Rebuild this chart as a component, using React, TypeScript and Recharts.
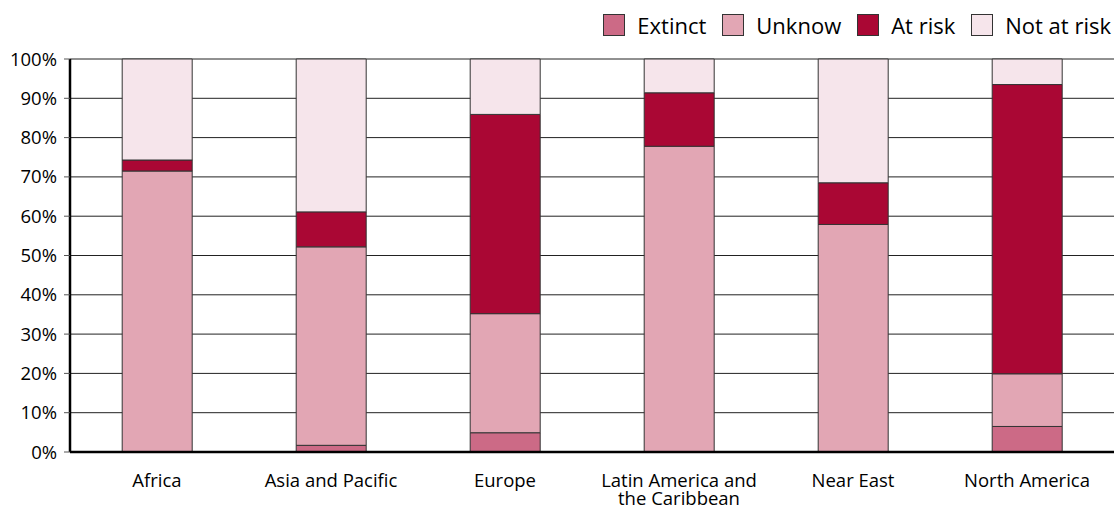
import React from "react";
import { BarChart, Bar, XAxis, YAxis, CartesianGrid, Legend } from "recharts";

const categories = [
  "Africa",
  "Asia and Pacific",
  "Europe",
  "Latin America and the Caribbean",
  "Near East",
  "North America",
];
const categoryLines = [
  ["Africa"],
  ["Asia and Pacific"],
  ["Europe"],
  ["Latin America and", "the Caribbean"],
  ["Near East"],
  ["North America"],
];
const extinct = [0, 1.7, 4.9, 0, 0, 6.5];
const unknow = [71.5, 50.5, 30.3, 77.8, 57.9, 13.4];
const atRisk = [2.8, 8.9, 50.7, 13.6, 10.6, 73.6];
const notAtRisk = [25.7, 38.9, 14.1, 8.6, 31.5, 6.5];
const yTicks = [0, 10, 20, 30, 40, 50, 60, 70, 80, 90, 100];
const boundaryTicks = [1, 2, 3, 4, 5];

const seriesNames = ["Extinct", "Unknow", "At risk", "Not at risk"];
const seriesKeys = ["extinct", "unknow", "atRisk", "notAtRisk"];
const seriesColors = ["#CC6A86", "#E2A6B4", "#AA0734", "#F6E5EB"];

const data = categories.map((c, i) => ({
  name: c,
  idx: i,
  extinct: extinct[i],
  unknow: unknow[i],
  atRisk: atRisk[i],
  notAtRisk: notAtRisk[i],
}));

const FONT = "'Open Sans', sans-serif";

const CatTick = (props: any) => {
  const { x, y, payload } = props;
  const idx = categories.indexOf(payload.value);
  const lines = idx >= 0 ? categoryLines[idx] : [String(payload.value)];
  return (
    <g>
      {lines.map((l, i) => (
        <text
          key={i}
          x={x}
          y={y + 27 + i * 18}
          textAnchor="middle"
          fill="#000"
          fontFamily={FONT}
          fontSize={18.5}
        >
          {l}
        </text>
      ))}
    </g>
  );
};

const LegendContent = () => (
  <div style={{ display: "flex", alignItems: "center", fontFamily: FONT, fontSize: 22, color: "#000", whiteSpace: "nowrap" }}>
    {seriesNames.map((n, i) => (
      <div key={n} style={{ display: "flex", alignItems: "center", marginLeft: i === 0 ? 0 : 16 }}>
        <div
          style={{
            width: 20,
            height: 20,
            background: seriesColors[i],
            border: "1px solid #333",
            marginRight: 12,
          }}
        />
        <span>{n}</span>
      </div>
    ))}
  </div>
);

export default function App() {
  return (
    <div style={{ position: "absolute", left: 0, top: 0, width: 1114, height: 509, background: "#fff" }}>
      <BarChart
        width={1114}
        height={509}
        data={data}
        margin={{ top: 59, right: 0, bottom: 0, left: 0 }}
        barCategoryGap="30%"
      >
        <CartesianGrid vertical={false} stroke="#222" strokeWidth={1} />
        <XAxis
          xAxisId="bound"
          dataKey="idx"
          type="number"
          domain={[0, 6]}
          ticks={boundaryTicks}
          height={0}
          axisLine={false}
          tick={false}
          tickLine={{ stroke: "#777" }}
          tickSize={6}
        />
        <XAxis
          dataKey="name"
          height={57}
          axisLine={{ stroke: "#000", strokeWidth: 2.5 }}
          tickLine={false}
          tick={<CatTick />}
          interval={0}
        />
        <YAxis
          width={70}
          domain={[0, 100]}
          ticks={yTicks}
          tickFormatter={(v: number) => `${v}%`}
          axisLine={{ stroke: "#000", strokeWidth: 2.5 }}
          tickLine={{ stroke: "#555" }}
          tickSize={6}
          tickMargin={7}
          tick={{ fill: "#000", fontFamily: FONT, fontSize: 18.5 }}
          interval={0}
        />
        <Legend
          layout="vertical"
          align="center"
          verticalAlign="middle"
          content={<LegendContent />}
          wrapperStyle={{ top: 10, right: 3, left: "auto", width: "auto" }}
        />
        {seriesKeys.map((k, i) => (
          <Bar
            key={k}
            dataKey={k}
            name={seriesNames[i]}
            stackId="a"
            fill={seriesColors[i]}
            stroke="#333"
            strokeWidth={1}
            isAnimationActive={false}
          />
        ))}
      </BarChart>
    </div>
  );
}
